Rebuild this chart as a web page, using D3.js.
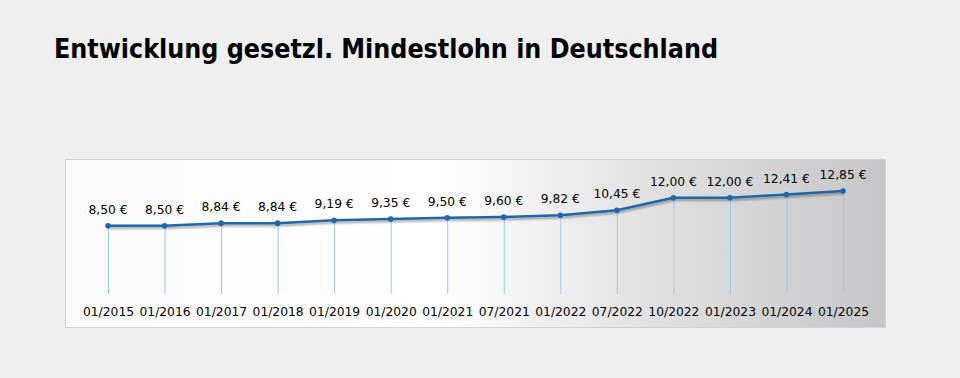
<!DOCTYPE html>
<html>
<head>
<meta charset="utf-8">
<script src="https://cdn.jsdelivr.net/npm/d3@7"></script>
<style>
  html, body { margin: 0; padding: 0; background: #efefef; }
  svg { display: block; }
</style>
</head>
<body>
<script>
// data
let dates = ['01/2015', '01/2016', '01/2017', '01/2018', '01/2019', '01/2020', '01/2021',
             '07/2021', '01/2022', '07/2022', '10/2022', '01/2023', '01/2024', '01/2025'];
let wages = [8.50, 8.50, 8.84, 8.84, 9.19, 9.35, 9.50, 9.60, 9.82, 10.45, 12.00, 12.00, 12.41, 12.85];
let chartTitle = 'Entwicklung gesetzl. Mindestlohn in Deutschland';

let W = 960, H = 378;
let svg = d3.select('body').append('svg')
  .attr('width', W)
  .attr('height', H);

let defs = svg.append('defs');

// plot background: white on the left, grey to the right
let grad = defs.append('linearGradient').attr('id', 'bg')
  .attr('x1', '0%').attr('x2', '100%').attr('y1', '0%').attr('y2', '0%');
grad.append('stop').attr('offset', '0%').attr('stop-color', '#fbfbfb');
grad.append('stop').attr('offset', '45%').attr('stop-color', '#ffffff');
grad.append('stop').attr('offset', '70%').attr('stop-color', '#e2e2e3');
grad.append('stop').attr('offset', '100%').attr('stop-color', '#c6c6c8');

let shadow = defs.append('filter').attr('id', 'shadow')
  .attr('x', '-5%').attr('y', '-50%').attr('width', '110%').attr('height', '200%');
shadow.append('feDropShadow')
  .attr('dx', 1).attr('dy', 2).attr('stdDeviation', 1.2)
  .attr('flood-color', '#000').attr('flood-opacity', 0.35);

// title
svg.append('text')
  .attr('x', 54)
  .attr('y', 58)
  .attr('font-family', 'DejaVu Sans Condensed, DejaVu Sans, sans-serif')
  .attr('font-weight', 'bold')
  .attr('font-size', 26)
  .attr('textLength', 664)
  .attr('lengthAdjust', 'spacingAndGlyphs')
  .attr('fill', '#000')
  .text(chartTitle);

// plot box
svg.append('rect')
  .attr('x', 65.5).attr('y', 159.5)
  .attr('width', 820).attr('height', 168)
  .attr('fill', 'url(#bg)')
  .attr('stroke', '#d2d2d2');

// scales
let x = d3.scalePoint()
  .domain(dates)
  .range([108, 843]);

let y = d3.scaleLinear()
  .domain([0, 12.85])
  .range([294, 191]);

// drop lines
svg.append('g').selectAll('line')
  .data(wages)
  .enter().append('line')
  .attr('x1', (d, i) => x(dates[i]) + 0.5)
  .attr('x2', (d, i) => x(dates[i]) + 0.5)
  .attr('y1', d => y(d))
  .attr('y2', y(0))
  .attr('stroke', '#95ccee')
  .attr('stroke-width', 1);

// line
let line = d3.line()
  .x((d, i) => x(dates[i]))
  .y(d => y(d));

svg.append('path')
  .datum(wages)
  .attr('d', line)
  .attr('fill', 'none')
  .attr('stroke', '#1f67a8')
  .attr('stroke-width', 2.5)
  .attr('stroke-linejoin', 'round')
  .attr('filter', 'url(#shadow)');

// markers
svg.append('g').selectAll('circle')
  .data(wages)
  .enter().append('circle')
  .attr('cx', (d, i) => x(dates[i]))
  .attr('cy', d => y(d))
  .attr('r', 2.8)
  .attr('fill', '#1f67a8');

// value labels
let fmt = d => d.toFixed(2).replace('.', ',') + ' €';
svg.append('g').selectAll('text')
  .data(wages)
  .enter().append('text')
  .attr('x', (d, i) => x(dates[i]))
  .attr('y', d => y(d) - 12)
  .attr('text-anchor', 'middle')
  .attr('font-family', 'DejaVu Sans, sans-serif')
  .attr('font-size', 12.3)
  .attr('fill', '#000')
  .text(fmt);

// category axis
let xAxis = d3.axisBottom(x).tickSize(0).tickPadding(0);
let ax = svg.append('g')
  .attr('transform', 'translate(0,307)')
  .call(xAxis);
ax.select('.domain').remove();
ax.selectAll('text')
  .attr('font-family', 'DejaVu Sans, sans-serif')
  .attr('font-size', 12.3)
  .attr('fill', '#000');
</script>
</body>
</html>
